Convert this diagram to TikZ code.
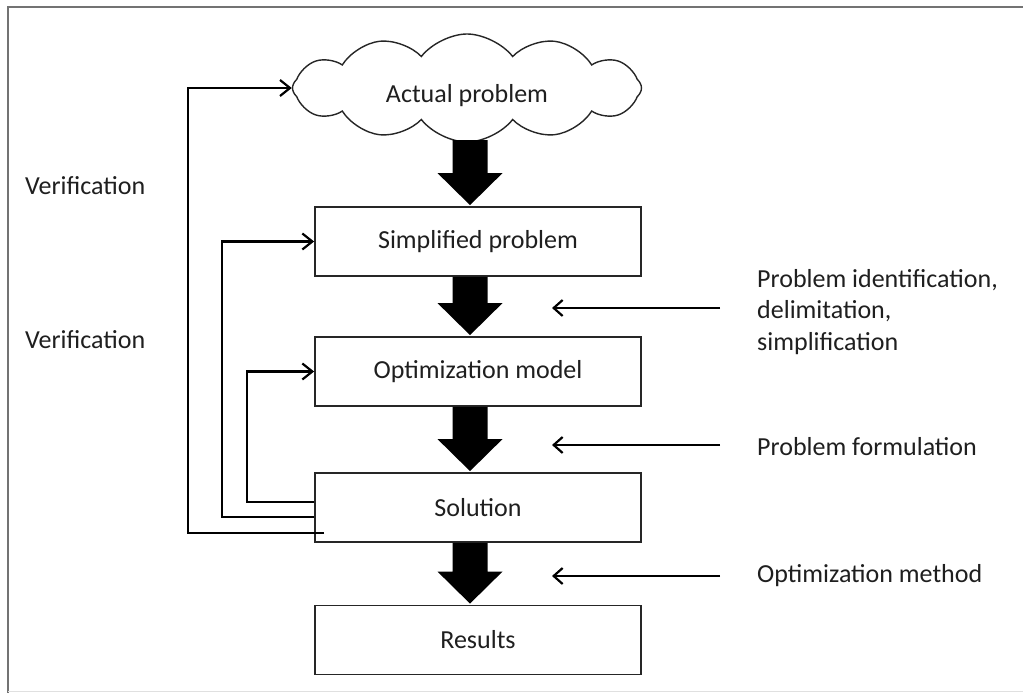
\documentclass[tikz,border=0pt]{standalone}
\usepackage{fontspec}
\setmainfont{Carlito}
\usetikzlibrary{shapes.symbols,arrows.meta,calc}

\tikzset{
  stagebox/.style={draw=black!85, line width=1.8pt, fill=white,
    minimum width=326pt, minimum height=69pt, inner sep=0pt},
  feedback/.style={draw=black, line width=2.5pt,
    -{Straight Barb[length=10pt,width=16pt,line width=2.2pt]}},
  hint/.style={draw=black, line width=2.5pt,
    -{Straight Barb[length=9pt,width=16pt,line width=2.2pt]}},
  caption/.style={anchor=west, align=left, inner sep=0pt, text=black!88},
}

% block arrow from one anchor down to another: shaft centred at x = 470
\newcommand\stagearrow[2]{%
  \fill[black] let \p1=(#1), \p2=(#2) in
    (452.5pt,\y1) -- (487.5pt,\y1) -- (487.5pt,\y2+33pt) -- (502.5pt,\y2+33pt)
    -- (470pt,\y2+1pt) -- (437.5pt,\y2+33pt) -- (452.5pt,\y2+33pt) -- cycle;}

\begin{document}
\begin{tikzpicture}[x=1pt,y=-1pt,
  every node/.style={font=\fontsize{26}{31.5}\selectfont, text=black!88}]
\useasboundingbox (0,0) rectangle (1023,693);
\fill[white] (0,0) rectangle (1023,693);

% page frame
\draw[black!55, line width=2pt] (8,693) -- (8,7) -- (1023,7);
\draw[black!12, line width=1pt] (8,691) -- (1023,691);

% stages
\node[cloud, draw=black!85, line width=1.4pt, fill=white, cloud puffs=12,
  cloud puff arc=105, aspect=3.2, minimum width=349pt, minimum height=108pt,
  inner sep=0pt] (actual) at (467,88) {};
\node (actualtext) at (467,96) {Actual problem};
\coordinate (cloudbase) at (470,140);
\node[stagebox] (simp) at (478,241.5) {Simplified problem};
\node[stagebox] (opt)  at (478,371.5) {Optimization model};
\node[stagebox] (sol)  at (478,507.5) {Solution};
\node[stagebox] (res)  at (478,640)   {Results};

% flow between stages
\stagearrow{cloudbase}{simp.north}
\stagearrow{simp.south}{opt.north}
\stagearrow{opt.south}{sol.north}
\stagearrow{sol.south}{res.north}

% verification loops
\draw[feedback] ([xshift=10pt,yshift=-25.5pt]sol.west) -- (188,533) |- (actual.west);
\draw[feedback] ([yshift=-9.5pt]sol.west) -- ++(-92,0) |- (simp.west);
\draw[feedback] ([yshift=5.5pt]sol.west) -- ++(-67,0) |- (opt.west);

\node[caption] (ver1) at (25,186) {Verification};
\node[caption] (ver2) at (25,340) {Verification};

% activities between stages
\node[caption] (ident) at (757,312) {Problem identification,\\delimitation,\\simplification};
\node[caption] (form)  at (757,447) {Problem formulation};
\node[caption] (meth)  at (757,576) {Optimization method};

\coordinate (identTo) at (552,308);
\coordinate (formTo)  at (552,445);
\coordinate (methTo)  at (552,576);
\draw[hint] ([xshift=-37pt]ident.west |- identTo) -- (identTo);
\draw[hint] ([xshift=-37pt]form.west |- formTo) -- (formTo);
\draw[hint] ([xshift=-37pt]meth.west |- methTo) -- (methTo);
\end{tikzpicture}
\end{document}
